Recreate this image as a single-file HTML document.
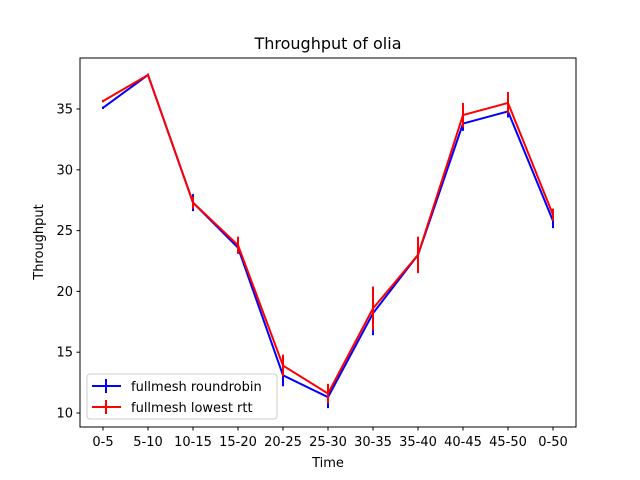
<!DOCTYPE html>
<html><head><meta charset="utf-8"><style>
body{margin:0;background:#fff}
svg{display:block;font-family:"DejaVu Sans","Liberation Sans",sans-serif}
</style></head><body>
<svg id="chart" width="640" height="480">
<rect width="640" height="480" fill="#fff"/>
<text x="328" y="49" text-anchor="middle" font-size="16">Throughput of olia</text>
<g id="plot"></g>
<rect x="80" y="58" width="496" height="369" fill="none" stroke="#000" stroke-width="1"/>
<text x="328" y="467" text-anchor="middle" font-size="13">Time</text>
<text transform="translate(43,242) rotate(-90)" text-anchor="middle" font-size="13">Throughput</text>
<g>
<rect x="87" y="374" width="190" height="45" rx="3" fill="#fff" fill-opacity="0.8" stroke="#ccc"/>
<g>
<line x1="92" y1="386" x2="121" y2="386" stroke="#0000ff" stroke-width="2"/><line x1="106" y1="379" x2="106" y2="393" stroke="#0000ff" stroke-width="2"/>
<text x="131" y="391" font-size="13">fullmesh roundrobin</text></g>
<g>
<line x1="92" y1="407" x2="121" y2="407" stroke="#ff0000" stroke-width="2"/><line x1="106" y1="400" x2="106" y2="414" stroke="#ff0000" stroke-width="2"/>
<text x="131" y="412" font-size="13">fullmesh lowest rtt</text></g>
</g>
</svg>
<script>
const categories=["0-5","5-10","10-15","15-20","20-25","25-30","30-35","35-40","40-45","45-50","0-50"];
const rrValues=[35.1,37.8,27.3,23.6,13.1,11.3,18.2,23.0,33.8,34.8,25.8];
const rrErrors=[0.1,0.1,0.7,0.5,0.9,0.9,1.8,0.5,0.6,0.5,0.6];
const rttValues=[35.65,37.8,27.3,23.8,13.9,11.6,18.6,23.0,34.5,35.5,26.3];
const rttErrors=[0.1,0.1,0.5,0.7,0.9,0.8,1.8,1.5,1.0,0.9,0.5];
const yTicks=[10,15,20,25,30,35];
const NS="http://www.w3.org/2000/svg";
const plot=document.getElementById('plot');
function xs(i){return 103+i*45;}
function ys(v){return 413-(v-10)*12.16;}
function mk(tag,attrs){const e=document.createElementNS(NS,tag);for(const k in attrs)e.setAttribute(k,attrs[k]);plot.appendChild(e);return e;}
yTicks.forEach(t=>{
  const l=mk('line',{x1:76.5,x2:80,y1:ys(t),y2:ys(t),stroke:'#000'});
  
  
  const tx=mk('text',{x:73,y:ys(t)+4.5,'text-anchor':'end','font-size':13});
  tx.textContent=t;
  
  
});
categories.forEach((c,i)=>{
  const l=mk('line',{x1:xs(i),x2:xs(i),y1:427,y2:430.5,stroke:'#000'});
  
  
  const tx=mk('text',{x:xs(i),y:446,'text-anchor':'middle','font-size':13});
  tx.textContent=c;
  
  
});
function series(vals,errs,color,name){
  const p=mk('polyline',{points:vals.map((v,i)=>xs(i)+','+ys(v)).join(' '),fill:'none',stroke:color,'stroke-width':2});
  
  
  vals.forEach((v,i)=>{
    const e=mk('line',{x1:xs(i),x2:xs(i),y1:ys(v-errs[i]),y2:ys(v+errs[i]),stroke:color,'stroke-width':2});
    
    
  });
}
series(rrValues,rrErrors,'#0000ff','roundrobin');
series(rttValues,rttErrors,'#ff0000','lowest-rtt');
</script>
</body></html>
